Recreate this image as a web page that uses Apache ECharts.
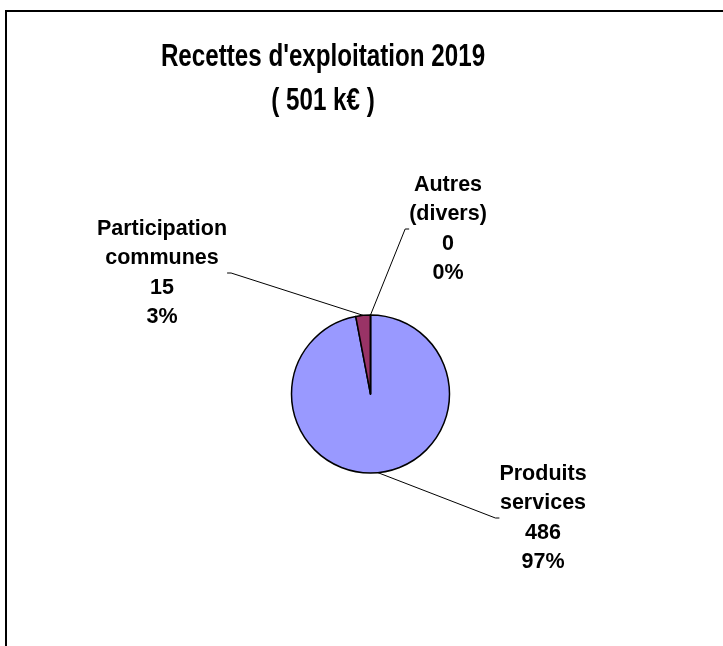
<!DOCTYPE html>
<html>
<head>
<meta charset="utf-8">
<script src="https://cdn.jsdelivr.net/npm/echarts@6/dist/echarts.min.js"></script>
<style>
html,body{margin:0;padding:0;background:#fff;}
#chart{width:723px;height:646px;}
</style>
</head>
<body>
<div id="chart"></div>
<script>
// ---- data ----
const titleLines = ["Recettes d'exploitation 2019", "( 501 k€ )"];
const categories = ["Produits services", "Participation communes", "Autres (divers)"];
const values = [486, 15, 0];
const labelLines = [["Produits", "services"], ["Participation", "communes"], ["Autres", "(divers)"]];

// ---- presentation ----
const colors = ["#9999FF", "#993366", "#FFFFCC"];
const labelCenters = [[543, 518], [162, 273], [448, 229]];
const labelPads = [[0, 0, 0, 0], [0, 0, 0, 0], [110, 0, 110, 0]];

const chart = echarts.init(document.getElementById('chart'), null, {renderer: 'canvas'});
const option = {
  animation: false,
  backgroundColor: '#ffffff',
  graphic: [{
    type: 'rect',
    shape: {x: 6, y: 11, width: 900, height: 900},
    style: {fill: 'none', stroke: '#000', lineWidth: 2},
    silent: true
  }, {
    type: 'text',
    x: 323,
    y: 79,
    scaleX: 0.78,
    silent: true,
    style: {
      text: titleLines.join('\n'),
      align: 'center',
      verticalAlign: 'middle',
      font: "bold 31px 'Liberation Sans', Arial, sans-serif",
      lineHeight: 44,
      fill: '#000'
    }
  }],
  series: [{
    type: 'pie',
    center: [370.5, 394],
    radius: 79,
    startAngle: 90,
    clockwise: true,
    percentPrecision: 0,
    avoidLabelOverlap: false,
    data: categories.map((c, i) => ({
      name: c,
      value: values[i],
      itemStyle: {color: colors[i]},
      label: {padding: labelPads[i], backgroundColor: 'rgba(255,255,255,0)'}
    })),
    itemStyle: {borderColor: '#000', borderWidth: 1.5},
    label: {
      show: true,
      position: 'outside',
      formatter: p => labelLines[p.dataIndex].join('\n') + '\n' + p.value + '\n' + Math.round(p.percent) + '%',
      fontFamily: "'Liberation Sans', Arial, sans-serif",
      fontWeight: 'bold',
      fontSize: 21.5,
      lineHeight: 29.5,
      color: '#000',
      align: 'center'
    },
    labelLine: {
      show: true,
      length: 20,
      length2: 4,
      lineStyle: {color: '#000', width: 1}
    },
    labelLayout: p => ({
      x: labelCenters[p.dataIndex][0],
      y: labelCenters[p.dataIndex][1],
      align: 'center',
      verticalAlign: 'middle'
    }),
    emphasis: {disabled: true}
  }]
};
chart.setOption(option);
</script>
</body>
</html>
